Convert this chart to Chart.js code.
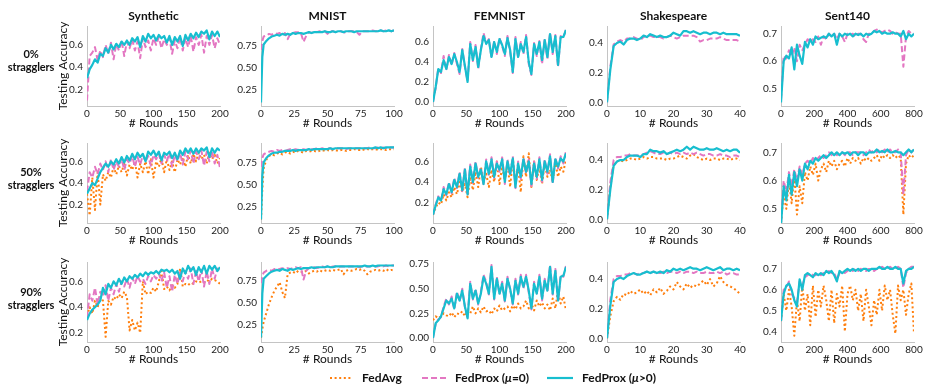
<!DOCTYPE html>
<html><head><meta charset="utf-8">
<script src="https://cdn.jsdelivr.net/npm/chart.js@4"></script>
<style>
body{margin:0;width:934px;height:386px;background:#fff;position:relative;overflow:hidden;font-family:Lato,'Open Sans',sans-serif;color:#111}
canvas{position:absolute}
.t{position:absolute;font-weight:bold;text-align:center;white-space:nowrap}
.lg{position:absolute;font-weight:bold;font-size:12px;line-height:14px;white-space:nowrap}
</style></head><body>
<script>
// ---------- categories / x values ----------
const rounds200 = [0,4,8,12,16,20,24,28,32,36,40,44,48,52,56,60,64,68,72,76,80,84,88,92,96,100,104,108,112,116,120,124,128,132,136,140,144,148,152,156,160,164,168,172,176,180,184,188,192,196,200];
const roundsMNIST = [0,1,2,4,6,8,10,12,14,16,18,20,22,24,26,28,30,32,34,36,38,40,42,44,46,48,50,52,54,56,58,60,62,64,66,68,70,72,74,76,78,80,82,84,86,88,90,92,94,96,98,100];
const roundsShakespeare = [0,1,2,3,4,5,6,7,8,9,10,11,12,13,14,15,16,17,18,19,20,21,22,23,24,25,26,27,28,29,30,31,32,33,34,35,36,37,38,39,40];
const roundsSent140 = [0,16,32,48,64,80,96,112,128,144,160,176,192,208,224,240,256,272,288,304,320,336,352,368,384,400,416,432,448,464,480,496,512,528,544,560,576,592,608,624,640,656,672,688,704,720,736,752,768,784,800];

// ---------- tick labels ----------
const xticksSynthetic = [0,50,100,150,200];
const xticksMNIST = [0,25,50,75,100];
const xticksFEMNIST = [0,50,100,150,200];
const xticksShakespeare = [0,10,20,30,40];
const xticksSent140 = [0,200,400,600,800];
const yticksSynthetic = ['0.2','0.4','0.6'];
const yticksMNIST = ['0.25','0.50','0.75'];
const yticksFEMNIST0 = ['0.0','0.2','0.4','0.6'];
const yticksFEMNIST50 = ['0.2','0.4','0.6'];
const yticksFEMNIST90 = ['0.00','0.25','0.50','0.75'];
const yticksShakespeare = ['0.0','0.2','0.4'];
const yticksSent140 = ['0.5','0.6','0.7'];
const yticksSent140_90 = ['0.4','0.5','0.6','0.7'];

const datasetTitles = ['Synthetic','MNIST','FEMNIST','Shakespeare','Sent140'];
const rowLabels = ['0%','50%','90%'];
const seriesNames = ['FedAvg','FedProx (\u03bc=0)','FedProx (\u03bc>0)'];

// ---------- 0% stragglers ----------
const synthetic0_prox0 = [0.10,0.50,0.53,0.58,0.46,0.55,0.49,0.60,0.52,0.62,0.47,0.61,0.55,0.64,0.50,0.63,0.57,0.65,0.55,0.63,0.48,0.66,0.58,0.64,0.55,0.66,0.60,0.67,0.57,0.65,0.60,0.66,0.52,0.64,0.57,0.67,0.55,0.66,0.58,0.68,0.54,0.67,0.60,0.69,0.53,0.68,0.60,0.69,0.57,0.66,0.60];
const synthetic0_proxMu = [0.30,0.38,0.42,0.47,0.44,0.52,0.50,0.57,0.53,0.60,0.56,0.61,0.58,0.63,0.60,0.64,0.60,0.66,0.63,0.67,0.58,0.68,0.63,0.70,0.66,0.69,0.64,0.69,0.66,0.68,0.62,0.68,0.60,0.67,0.63,0.68,0.59,0.69,0.64,0.70,0.66,0.71,0.67,0.72,0.70,0.73,0.65,0.72,0.68,0.72,0.67];
const mnist0_prox0 = [0.70,0.80,0.85,0.86,0.88,0.87,0.89,0.88,0.89,0.86,0.89,0.82,0.88,0.89,0.90,0.90,0.89,0.79,0.86,0.90,0.89,0.91,0.90,0.91,0.90,0.91,0.88,0.91,0.91,0.90,0.91,0.91,0.90,0.89,0.91,0.91,0.91,0.90,0.87,0.91,0.91,0.91,0.91,0.92,0.91,0.91,0.92,0.91,0.92,0.92,0.91,0.92];
const mnist0_proxMu = [0.10,0.62,0.76,0.80,0.83,0.85,0.86,0.87,0.86,0.88,0.87,0.88,0.87,0.89,0.88,0.89,0.89,0.88,0.89,0.90,0.89,0.90,0.90,0.90,0.90,0.91,0.90,0.90,0.91,0.90,0.91,0.91,0.90,0.91,0.91,0.91,0.90,0.91,0.91,0.91,0.91,0.91,0.91,0.91,0.91,0.91,0.92,0.91,0.91,0.92,0.91,0.92];
const femnist0_prox0 = [0.00,0.14,0.34,0.29,0.46,0.32,0.47,0.37,0.49,0.38,0.28,0.53,0.35,0.21,0.60,0.41,0.57,0.33,0.53,0.69,0.59,0.63,0.44,0.61,0.48,0.64,0.56,0.46,0.66,0.50,0.29,0.65,0.44,0.60,0.48,0.67,0.38,0.27,0.59,0.46,0.61,0.38,0.63,0.43,0.69,0.48,0.67,0.35,0.66,0.64,0.73];
const femnist0_proxMu = [0.00,0.15,0.33,0.30,0.42,0.33,0.45,0.38,0.48,0.40,0.30,0.52,0.36,0.20,0.58,0.42,0.55,0.35,0.52,0.66,0.58,0.62,0.45,0.60,0.50,0.63,0.57,0.48,0.64,0.52,0.30,0.63,0.45,0.58,0.50,0.65,0.40,0.28,0.58,0.48,0.60,0.42,0.62,0.45,0.68,0.50,0.66,0.37,0.65,0.65,0.72];
const shakespeare0_prox0 = [0.00,0.24,0.39,0.41,0.42,0.41,0.43,0.43,0.44,0.43,0.42,0.44,0.45,0.45,0.44,0.44,0.44,0.43,0.44,0.45,0.44,0.43,0.44,0.45,0.45,0.45,0.45,0.44,0.41,0.42,0.42,0.43,0.43,0.43,0.44,0.43,0.42,0.42,0.42,0.42,0.41];
const shakespeare0_proxMu = [0.00,0.22,0.38,0.40,0.41,0.39,0.42,0.43,0.43,0.42,0.43,0.45,0.44,0.46,0.45,0.44,0.45,0.44,0.44,0.45,0.47,0.46,0.45,0.48,0.48,0.47,0.48,0.47,0.46,0.47,0.47,0.46,0.47,0.47,0.46,0.47,0.46,0.46,0.46,0.46,0.45];
const sent0_prox0 = [0.46,0.62,0.61,0.64,0.62,0.65,0.60,0.66,0.64,0.66,0.68,0.67,0.68,0.67,0.69,0.66,0.69,0.68,0.70,0.69,0.70,0.68,0.70,0.69,0.67,0.70,0.695,0.70,0.69,0.70,0.70,0.68,0.67,0.70,0.70,0.71,0.715,0.71,0.705,0.71,0.715,0.71,0.70,0.705,0.70,0.70,0.58,0.69,0.71,0.70,0.70];
const sent0_proxMu = [0.45,0.60,0.62,0.61,0.65,0.57,0.66,0.62,0.59,0.67,0.65,0.68,0.66,0.69,0.68,0.685,0.69,0.685,0.70,0.69,0.70,0.66,0.70,0.69,0.70,0.695,0.70,0.69,0.70,0.695,0.70,0.69,0.70,0.695,0.70,0.71,0.705,0.71,0.70,0.705,0.70,0.70,0.705,0.70,0.70,0.69,0.71,0.68,0.70,0.69,0.70];

// ---------- 50% stragglers ----------
const synthetic50_fedavg = [0.30,0.10,0.45,0.15,0.50,0.20,0.48,0.42,0.50,0.45,0.55,0.48,0.56,0.50,0.58,0.47,0.57,0.52,0.60,0.45,0.58,0.50,0.60,0.48,0.62,0.45,0.60,0.55,0.63,0.50,0.62,0.52,0.60,0.50,0.62,0.57,0.64,0.55,0.66,0.58,0.67,0.60,0.68,0.62,0.66,0.58,0.68,0.62,0.66,0.58,0.63];
const synthetic50_prox0 = [0.32,0.50,0.45,0.55,0.48,0.58,0.52,0.60,0.50,0.62,0.52,0.60,0.55,0.63,0.52,0.62,0.58,0.65,0.55,0.64,0.57,0.66,0.60,0.65,0.56,0.66,0.62,0.67,0.58,0.66,0.60,0.68,0.55,0.66,0.60,0.68,0.57,0.69,0.62,0.70,0.58,0.69,0.62,0.70,0.56,0.69,0.60,0.70,0.58,0.66,0.54];
const synthetic50_proxMu = [0.30,0.35,0.40,0.38,0.44,0.50,0.54,0.58,0.55,0.60,0.57,0.62,0.58,0.64,0.59,0.65,0.61,0.67,0.62,0.68,0.64,0.67,0.60,0.69,0.66,0.70,0.65,0.69,0.61,0.68,0.66,0.69,0.63,0.68,0.62,0.70,0.66,0.72,0.68,0.72,0.67,0.72,0.68,0.72,0.70,0.73,0.64,0.72,0.68,0.72,0.70];
const mnist50_fedavg = [0.10,0.45,0.68,0.78,0.82,0.84,0.83,0.85,0.86,0.84,0.86,0.87,0.85,0.87,0.86,0.88,0.87,0.86,0.88,0.87,0.88,0.88,0.87,0.88,0.89,0.88,0.89,0.88,0.89,0.89,0.88,0.89,0.89,0.88,0.89,0.89,0.90,0.89,0.89,0.90,0.89,0.90,0.89,0.90,0.90,0.89,0.90,0.90,0.89,0.90,0.90,0.90];
const mnist50_prox0 = [0.70,0.80,0.84,0.86,0.87,0.88,0.87,0.89,0.88,0.89,0.88,0.89,0.90,0.89,0.90,0.89,0.90,0.90,0.89,0.90,0.90,0.90,0.91,0.90,0.91,0.90,0.91,0.91,0.90,0.91,0.91,0.91,0.91,0.90,0.91,0.91,0.91,0.91,0.91,0.91,0.91,0.91,0.92,0.91,0.91,0.92,0.91,0.92,0.91,0.92,0.92,0.92];
const mnist50_proxMu = [0.10,0.60,0.75,0.80,0.83,0.85,0.86,0.86,0.87,0.87,0.88,0.88,0.88,0.89,0.88,0.89,0.89,0.89,0.89,0.90,0.89,0.90,0.90,0.90,0.90,0.90,0.90,0.91,0.90,0.91,0.91,0.91,0.91,0.91,0.91,0.91,0.91,0.91,0.91,0.91,0.91,0.91,0.91,0.91,0.92,0.91,0.92,0.91,0.92,0.92,0.92,0.92];
const femnist50_fedavg = [0.08,0.15,0.20,0.18,0.28,0.22,0.30,0.25,0.35,0.28,0.40,0.30,0.38,0.25,0.45,0.32,0.50,0.35,0.55,0.40,0.48,0.35,0.52,0.40,0.60,0.38,0.55,0.42,0.58,0.35,0.62,0.40,0.55,0.30,0.65,0.45,0.68,0.35,0.60,0.42,0.55,0.38,0.58,0.45,0.52,0.40,0.60,0.45,0.55,0.50,0.62];
const femnist50_prox0 = [0.08,0.18,0.26,0.21,0.35,0.27,0.40,0.29,0.44,0.34,0.50,0.31,0.54,0.27,0.57,0.39,0.60,0.44,0.54,0.37,0.62,0.47,0.64,0.44,0.60,0.50,0.64,0.38,0.62,0.46,0.65,0.34,0.60,0.43,0.64,0.48,0.62,0.36,0.60,0.43,0.64,0.40,0.62,0.48,0.67,0.38,0.64,0.53,0.65,0.58,0.70];
const femnist50_proxMu = [0.08,0.17,0.25,0.22,0.33,0.28,0.38,0.30,0.42,0.35,0.48,0.32,0.52,0.28,0.55,0.40,0.58,0.45,0.52,0.38,0.60,0.48,0.62,0.45,0.58,0.52,0.62,0.40,0.60,0.48,0.63,0.35,0.58,0.45,0.62,0.50,0.60,0.38,0.58,0.45,0.62,0.42,0.60,0.50,0.65,0.40,0.62,0.55,0.63,0.60,0.68];
const shakespeare50_fedavg = [0.00,0.22,0.37,0.39,0.40,0.39,0.40,0.41,0.41,0.40,0.41,0.42,0.41,0.42,0.42,0.41,0.41,0.41,0.40,0.41,0.41,0.42,0.43,0.42,0.41,0.43,0.44,0.42,0.41,0.40,0.41,0.40,0.41,0.41,0.40,0.41,0.41,0.40,0.41,0.41,0.40];
const shakespeare50_prox0 = [0.00,0.25,0.40,0.42,0.42,0.43,0.43,0.44,0.43,0.43,0.43,0.44,0.45,0.46,0.45,0.44,0.44,0.45,0.44,0.45,0.44,0.45,0.44,0.45,0.44,0.45,0.44,0.45,0.44,0.43,0.44,0.44,0.43,0.43,0.44,0.43,0.43,0.42,0.43,0.43,0.42];
const shakespeare50_proxMu = [0.00,0.20,0.36,0.39,0.40,0.40,0.42,0.43,0.43,0.43,0.42,0.44,0.44,0.47,0.46,0.46,0.45,0.46,0.44,0.45,0.46,0.47,0.46,0.47,0.49,0.47,0.49,0.48,0.47,0.47,0.48,0.47,0.47,0.48,0.47,0.46,0.47,0.46,0.47,0.47,0.45];
const sent50_fedavg = [0.45,0.55,0.50,0.60,0.52,0.62,0.48,0.58,0.52,0.63,0.60,0.65,0.62,0.66,0.60,0.64,0.66,0.63,0.67,0.65,0.67,0.64,0.66,0.67,0.65,0.68,0.66,0.68,0.67,0.68,0.66,0.68,0.67,0.68,0.67,0.68,0.69,0.67,0.69,0.68,0.69,0.68,0.69,0.68,0.69,0.68,0.48,0.66,0.69,0.68,0.69];
const sent50_prox0 = [0.45,0.60,0.56,0.63,0.58,0.64,0.60,0.65,0.62,0.66,0.67,0.66,0.68,0.67,0.68,0.69,0.68,0.69,0.70,0.69,0.70,0.69,0.70,0.70,0.69,0.70,0.70,0.69,0.70,0.70,0.70,0.69,0.70,0.71,0.70,0.71,0.70,0.71,0.70,0.71,0.70,0.71,0.70,0.70,0.71,0.70,0.55,0.69,0.71,0.70,0.71];
const sent50_proxMu = [0.44,0.58,0.53,0.62,0.55,0.63,0.58,0.64,0.60,0.66,0.64,0.67,0.66,0.68,0.67,0.68,0.69,0.68,0.69,0.70,0.69,0.70,0.69,0.70,0.695,0.70,0.69,0.70,0.70,0.69,0.70,0.70,0.69,0.70,0.70,0.70,0.71,0.70,0.705,0.70,0.71,0.70,0.70,0.705,0.70,0.70,0.69,0.70,0.71,0.70,0.71];

// ---------- 90% stragglers ----------
const synthetic90_fedavg = [0.33,0.40,0.35,0.45,0.40,0.48,0.45,0.17,0.45,0.42,0.48,0.46,0.50,0.47,0.52,0.48,0.22,0.30,0.22,0.28,0.20,0.60,0.50,0.52,0.51,0.55,0.52,0.60,0.68,0.54,0.56,0.53,0.57,0.55,0.58,0.70,0.56,0.58,0.57,0.59,0.58,0.60,0.59,0.60,0.59,0.61,0.60,0.62,0.61,0.60,0.58];
const synthetic90_prox0 = [0.32,0.50,0.45,0.55,0.42,0.52,0.48,0.57,0.45,0.55,0.50,0.58,0.52,0.60,0.56,0.62,0.55,0.63,0.58,0.64,0.60,0.62,0.58,0.64,0.60,0.65,0.62,0.66,0.60,0.67,0.55,0.64,0.52,0.65,0.58,0.67,0.60,0.68,0.62,0.70,0.58,0.68,0.60,0.69,0.56,0.68,0.58,0.70,0.62,0.70,0.66];
const synthetic90_proxMu = [0.30,0.35,0.38,0.40,0.42,0.45,0.55,0.50,0.58,0.55,0.60,0.57,0.62,0.58,0.63,0.60,0.64,0.62,0.65,0.63,0.66,0.64,0.67,0.65,0.67,0.66,0.68,0.66,0.69,0.68,0.69,0.67,0.69,0.66,0.68,0.62,0.70,0.66,0.72,0.68,0.71,0.65,0.71,0.67,0.72,0.66,0.72,0.69,0.72,0.68,0.71];
const mnist90_fedavg = [0.10,0.20,0.28,0.38,0.48,0.56,0.63,0.68,0.73,0.62,0.55,0.82,0.84,0.85,0.83,0.86,0.85,0.84,0.86,0.83,0.85,0.86,0.85,0.87,0.85,0.86,0.87,0.86,0.87,0.86,0.87,0.88,0.82,0.86,0.87,0.86,0.87,0.88,0.87,0.88,0.86,0.82,0.85,0.86,0.87,0.86,0.87,0.86,0.88,0.86,0.87,0.86];
const mnist90_prox0 = [0.72,0.80,0.84,0.86,0.87,0.86,0.88,0.87,0.88,0.89,0.88,0.89,0.88,0.89,0.90,0.89,0.90,0.76,0.86,0.89,0.90,0.90,0.89,0.90,0.91,0.90,0.91,0.90,0.91,0.91,0.90,0.91,0.91,0.90,0.91,0.91,0.91,0.91,0.90,0.91,0.91,0.91,0.91,0.92,0.91,0.91,0.92,0.91,0.92,0.91,0.92,0.92];
const mnist90_proxMu = [0.10,0.60,0.77,0.80,0.83,0.85,0.86,0.87,0.86,0.88,0.87,0.86,0.88,0.87,0.88,0.89,0.88,0.89,0.89,0.89,0.90,0.89,0.90,0.90,0.90,0.90,0.91,0.90,0.90,0.91,0.91,0.91,0.91,0.91,0.91,0.91,0.91,0.91,0.91,0.91,0.92,0.91,0.91,0.92,0.91,0.92,0.92,0.92,0.92,0.92,0.92,0.92];
const femnist90_fedavg = [0.18,0.22,0.20,0.22,0.25,0.23,0.22,0.26,0.21,0.25,0.24,0.27,0.22,0.28,0.25,0.32,0.25,0.30,0.26,0.32,0.27,0.28,0.24,0.30,0.27,0.33,0.28,0.30,0.32,0.27,0.33,0.29,0.35,0.30,0.32,0.38,0.30,0.35,0.28,0.38,0.32,0.36,0.30,0.34,0.28,0.40,0.30,0.48,0.35,0.42,0.28];
const femnist90_prox0 = [0.00,0.14,0.19,0.21,0.32,0.40,0.34,0.42,0.29,0.47,0.37,0.50,0.31,0.21,0.57,0.39,0.50,0.34,0.47,0.64,0.57,0.44,0.74,0.39,0.62,0.44,0.57,0.37,0.62,0.49,0.34,0.60,0.44,0.64,0.50,0.64,0.46,0.29,0.57,0.44,0.64,0.38,0.60,0.47,0.74,0.44,0.70,0.36,0.64,0.62,0.73];
const femnist90_proxMu = [0.00,0.15,0.18,0.22,0.30,0.38,0.35,0.40,0.30,0.45,0.38,0.48,0.32,0.20,0.55,0.40,0.48,0.35,0.45,0.62,0.55,0.45,0.72,0.40,0.60,0.45,0.55,0.38,0.60,0.50,0.35,0.58,0.45,0.62,0.52,0.62,0.48,0.30,0.55,0.45,0.62,0.40,0.58,0.48,0.72,0.45,0.68,0.38,0.62,0.63,0.72];
const shakespeare90_fedavg = [0.00,0.15,0.25,0.28,0.26,0.30,0.29,0.32,0.30,0.31,0.33,0.30,0.32,0.29,0.33,0.31,0.34,0.30,0.32,0.35,0.33,0.38,0.35,0.33,0.37,0.34,0.36,0.35,0.37,0.39,0.36,0.40,0.35,0.37,0.42,0.38,0.36,0.35,0.34,0.32,0.30];
const shakespeare90_prox0 = [0.00,0.26,0.40,0.42,0.42,0.43,0.43,0.44,0.44,0.43,0.44,0.44,0.45,0.44,0.45,0.44,0.44,0.45,0.44,0.45,0.45,0.44,0.45,0.44,0.45,0.45,0.44,0.45,0.44,0.44,0.45,0.44,0.44,0.45,0.44,0.45,0.43,0.44,0.44,0.43,0.43];
const shakespeare90_proxMu = [0.00,0.22,0.38,0.40,0.41,0.40,0.42,0.43,0.44,0.43,0.43,0.44,0.45,0.44,0.45,0.44,0.45,0.44,0.46,0.45,0.47,0.46,0.47,0.46,0.47,0.48,0.47,0.47,0.46,0.47,0.48,0.47,0.46,0.47,0.48,0.46,0.47,0.47,0.46,0.47,0.46];
const sent90_fedavg = [0.45,0.58,0.50,0.60,0.52,0.38,0.55,0.45,0.62,0.50,0.58,0.43,0.62,0.47,0.60,0.52,0.62,0.55,0.45,0.60,0.44,0.58,0.52,0.62,0.40,0.58,0.62,0.55,0.60,0.50,0.58,0.45,0.60,0.52,0.43,0.55,0.48,0.60,0.50,0.62,0.55,0.60,0.48,0.39,0.62,0.55,0.60,0.48,0.58,0.63,0.39];
const sent90_prox0 = [0.45,0.60,0.61,0.64,0.58,0.56,0.54,0.64,0.62,0.66,0.67,0.68,0.67,0.67,0.68,0.67,0.68,0.68,0.69,0.68,0.68,0.65,0.68,0.69,0.68,0.69,0.70,0.69,0.70,0.69,0.70,0.69,0.69,0.70,0.70,0.69,0.70,0.70,0.71,0.70,0.70,0.71,0.70,0.70,0.71,0.70,0.61,0.68,0.70,0.71,0.71];
const sent90_proxMu = [0.45,0.58,0.62,0.63,0.60,0.55,0.52,0.65,0.60,0.67,0.68,0.67,0.66,0.68,0.67,0.68,0.67,0.69,0.68,0.69,0.67,0.64,0.69,0.68,0.69,0.70,0.69,0.70,0.69,0.70,0.69,0.70,0.70,0.69,0.70,0.70,0.70,0.71,0.70,0.70,0.71,0.70,0.70,0.71,0.70,0.70,0.63,0.69,0.70,0.70,0.71];

// ---------- panel definitions ----------
const panels = [
  {r:0,c:0,x:rounds200,xt:xticksSynthetic,xmax:200,ymin:0.05,ymax:0.77,yt:yticksSynthetic,s:[null,synthetic0_prox0,synthetic0_proxMu]},
  {r:0,c:1,x:roundsMNIST,xt:xticksMNIST,xmax:100,ymin:0.06,ymax:0.97,yt:yticksMNIST,s:[null,mnist0_prox0,mnist0_proxMu]},
  {r:0,c:2,x:rounds200,xt:xticksFEMNIST,xmax:200,ymin:-0.04,ymax:0.76,yt:yticksFEMNIST0,s:[null,femnist0_prox0,femnist0_proxMu]},
  {r:0,c:3,x:roundsShakespeare,xt:xticksShakespeare,xmax:40,ymin:-0.025,ymax:0.515,yt:yticksShakespeare,s:[null,shakespeare0_prox0,shakespeare0_proxMu]},
  {r:0,c:4,x:roundsSent140,xt:xticksSent140,xmax:800,ymin:0.437,ymax:0.728,yt:yticksSent140,s:[null,sent0_prox0,sent0_proxMu]},
  {r:1,c:0,x:rounds200,xt:xticksSynthetic,xmax:200,ymin:0.03,ymax:0.77,yt:yticksSynthetic,s:[synthetic50_fedavg,synthetic50_prox0,synthetic50_proxMu]},
  {r:1,c:1,x:roundsMNIST,xt:xticksMNIST,xmax:100,ymin:0.06,ymax:0.97,yt:yticksMNIST,s:[mnist50_fedavg,mnist50_prox0,mnist50_proxMu]},
  {r:1,c:2,x:rounds200,xt:xticksFEMNIST,xmax:200,ymin:0.0,ymax:0.78,yt:yticksFEMNIST50,s:[femnist50_fedavg,femnist50_prox0,femnist50_proxMu]},
  {r:1,c:3,x:roundsShakespeare,xt:xticksShakespeare,xmax:40,ymin:-0.025,ymax:0.515,yt:yticksShakespeare,s:[shakespeare50_fedavg,shakespeare50_prox0,shakespeare50_proxMu]},
  {r:1,c:4,x:roundsSent140,xt:xticksSent140,xmax:800,ymin:0.45,ymax:0.733,yt:yticksSent140,s:[sent50_fedavg,sent50_prox0,sent50_proxMu]},
  {r:2,c:0,x:rounds200,xt:xticksSynthetic,xmax:200,ymin:0.13,ymax:0.75,yt:yticksSynthetic,s:[synthetic90_fedavg,synthetic90_prox0,synthetic90_proxMu]},
  {r:2,c:1,x:roundsMNIST,xt:xticksMNIST,xmax:100,ymin:0.05,ymax:0.96,yt:yticksMNIST,s:[mnist90_fedavg,mnist90_prox0,mnist90_proxMu]},
  {r:2,c:2,x:rounds200,xt:xticksFEMNIST,xmax:200,ymin:-0.04,ymax:0.77,yt:yticksFEMNIST90,s:[femnist90_fedavg,femnist90_prox0,femnist90_proxMu]},
  {r:2,c:3,x:roundsShakespeare,xt:xticksShakespeare,xmax:40,ymin:-0.025,ymax:0.515,yt:yticksShakespeare,s:[shakespeare90_fedavg,shakespeare90_prox0,shakespeare90_proxMu]},
  {r:2,c:4,x:roundsSent140,xt:xticksSent140,xmax:800,ymin:0.35,ymax:0.733,yt:yticksSent140_90,s:[sent90_fedavg,sent90_prox0,sent90_proxMu]}
];

// ---------- layout & style ----------
const PLOT_LEFT = [87,261,433,607,781];
const PLOT_TOP = [24,141,260];
const PW = 133, PH = 82, TOPPAD = 8, RIGHTPAD = 14, XH = 25;
const FONT = "Lato, 'Open Sans', sans-serif";
const SPINE = '#c4c4c4';
const STYLES = [
  {color:'#ff7f0e', width:2, dash:[2,2.6], order:3},
  {color:'#e377c2', width:2, dash:[6,3], order:2},
  {color:'#17becf', width:2.2, dash:[], order:1}
];

function makePanel(p) {
  const yw = p.c === 0 ? 40 : 36;
  const W = yw + PW + RIGHTPAD, H = TOPPAD + PH + XH;
  const cv = document.createElement('canvas');
  cv.width = W; cv.height = H;
  cv.style.left = (PLOT_LEFT[p.c] - yw) + 'px';
  cv.style.top = (PLOT_TOP[p.r] - TOPPAD) + 'px';
  cv.style.width = W + 'px'; cv.style.height = H + 'px';
  document.body.appendChild(cv);
  const datasets = [];
  p.s.forEach((vals, k) => {
    if (!vals) return;
    const st = STYLES[k];
    datasets.push({
      label: seriesNames[k],
      data: p.x.map((xv, i) => ({x: xv, y: vals[i]})),
      borderColor: st.color, borderWidth: st.width, borderDash: st.dash,
      pointRadius: 0, tension: 0, fill: false, order: st.order,
      borderCapStyle: 'butt', borderJoinStyle: 'round'
    });
  });
  const yVals = p.yt.map(parseFloat);
  new Chart(cv, {
    type: 'line',
    data: {datasets},
    options: {
      responsive: false, animation: false, devicePixelRatio: 1, events: [],
      layout: {padding: {left: 0, right: RIGHTPAD, top: TOPPAD, bottom: 0}},
      plugins: {legend: {display: false}, tooltip: {enabled: false}},
      scales: {
        x: {
          type: 'linear', min: 0, max: p.xmax,
          afterBuildTicks: a => { a.ticks = p.xt.map(v => ({value: v})); },
          afterFit: s => { s.height = XH; },
          grid: {display: false, drawTicks: false},
          border: {display: true, color: SPINE, width: 1},
          ticks: {padding: 2, autoSkip: false, maxRotation: 0, color: '#222', font: {family: FONT, size: 10}},
          title: {display: true, text: '# Rounds', color: '#111', font: {family: FONT, size: 12}, padding: {top: 0, bottom: 1}}
        },
        y: {
          type: 'linear', min: p.ymin, max: p.ymax,
          afterBuildTicks: a => { a.ticks = yVals.map(v => ({value: v})); },
          afterFit: s => { s.width = yw; },
          grid: {display: false, drawTicks: false},
          border: {display: true, color: SPINE, width: 1},
          ticks: {padding: 4, autoSkip: false, color: '#222', font: {family: FONT, size: 10},
                  callback: (v) => { const i = yVals.findIndex(t => Math.abs(t - v) < 1e-9); return i >= 0 ? p.yt[i] : ''; }},
          title: {display: p.c === 0, text: 'Testing Accuracy', color: '#111', font: {family: FONT, size: 12}, padding: {top: 9, bottom: 0}}
        }
      }
    }
  });
}
panels.forEach(makePanel);

// titles
datasetTitles.forEach((t, c) => {
  const d = document.createElement('div');
  d.className = 't';
  d.textContent = t;
  d.style.cssText += `left:${PLOT_LEFT[c]}px;width:${PW}px;top:8px;font-size:12px;line-height:16px;`;
  document.body.appendChild(d);
});
// row labels
const rowLabelCenters = [53, 171, 291];
rowLabels.forEach((t, r) => {
  const d = document.createElement('div');
  d.className = 't';
  d.innerHTML = t + '<br>stragglers';
  d.style.cssText += `left:2px;width:58px;top:${rowLabelCenters[r]-6.5}px;font-size:11px;line-height:13px;letter-spacing:-0.1px;`;
  document.body.appendChild(d);
});
</script>
<!-- legend -->
<svg style="position:absolute;left:0;top:370px" width="934" height="16">
  <line x1="330" y1="8" x2="353" y2="8" stroke="#ff7f0e" stroke-width="2" stroke-dasharray="2,2.6"/>
  <line x1="422" y1="8" x2="446" y2="8" stroke="#e377c2" stroke-width="2" stroke-dasharray="6,3"/>
  <line x1="547" y1="8" x2="573" y2="8" stroke="#17becf" stroke-width="2.2"/>
</svg>
<div class="lg" style="left:362px;top:371px">FedAvg</div>
<div class="lg" style="left:455px;top:371px">FedProx (<i>μ</i>=0)</div>
<div class="lg" style="left:582px;top:371px">FedProx (<i>μ</i>&gt;0)</div>
</body></html>
